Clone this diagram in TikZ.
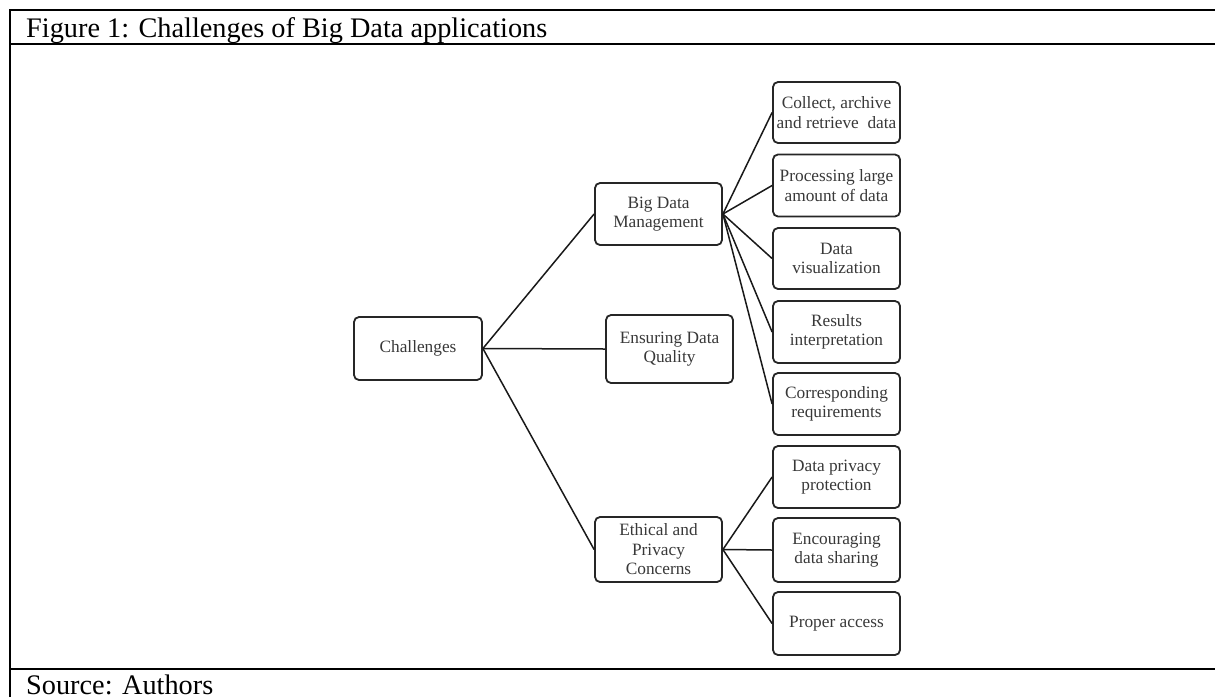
\documentclass[tikz,border=0pt]{standalone}
\usepackage{fontspec}
\setmainfont{Liberation Serif}
\begin{document}
\begin{tikzpicture}[x=1pt,y=-1pt,
  box/.style={draw=black!85, line width=1.8pt, rounded corners=5pt, align=center,
    inner sep=0pt, text=black!78, font=\fontsize{17.3}{19.5}\selectfont},
  link/.style={draw=black!90, line width=1.5pt},
  frame/.style={line width=2.6pt, black},
  caption/.style={anchor=base west, inner sep=0pt, font=\fontsize{28.3}{30}\selectfont}]
\useasboundingbox (0,0) rectangle (1215,697);
% frame
\draw[frame] (10,697) -- (10,10) -- (1215,10);
\draw[frame] (10,44) -- (1215,44);
\draw[frame] (10,669) -- (1215,669);
\node[caption] (title) at (26,37) {Figure 1: Challenges of Big Data applications};
\node[caption] (source) at (26,694) {Source: Authors};
% nodes
\node[box, minimum width=128pt, minimum height=63pt] (ch) at (418,348.5) {Challenges};
\node[box, minimum width=127pt, minimum height=62pt] (bdm) at (658.5,214) {Big Data\\Management};
\node[box, minimum width=127pt, minimum height=68pt] (edq) at (669.5,349) {Ensuring Data\\Quality};
\node[box, minimum width=127pt, minimum height=65pt] (epc) at (658.5,549.5) {Ethical and\\Privacy\\Concerns};
\node[box, minimum width=127pt, minimum height=61pt] (c1) at (836.5,112.5) {Collect, archive\\and retrieve~ data};
\node[box, minimum width=127pt, minimum height=62pt] (c2) at (836.5,185.5) {Processing large\\amount of data};
\node[box, minimum width=127pt, minimum height=61pt] (c3) at (836.5,258.5) {Data\\visualization};
\node[box, minimum width=127pt, minimum height=62pt] (c4) at (836.5,332) {Results\\interpretation};
\node[box, minimum width=127pt, minimum height=62pt] (c5) at (836.5,404) {Corresponding\\requirements};
\node[box, minimum width=127pt, minimum height=62pt] (c6) at (836.5,477) {Data privacy\\protection};
\node[box, minimum width=127pt, minimum height=64pt] (c7) at (836.5,550) {Encouraging\\data sharing};
\node[box, minimum width=127pt, minimum height=63pt] (c8) at (836.5,623.5) {Proper access};
% connectors
\draw[link] (ch.east) -- (bdm.west);
\draw[link] (ch.east) -- (edq.west);
\draw[link] (ch.east) -- (epc.west);
\foreach \t in {c1,c2,c3,c4,c5} \draw[link] (bdm.east) -- (\t.west);
\foreach \t in {c6,c7,c8} \draw[link] (epc.east) -- (\t.west);
\end{tikzpicture}
\end{document}
